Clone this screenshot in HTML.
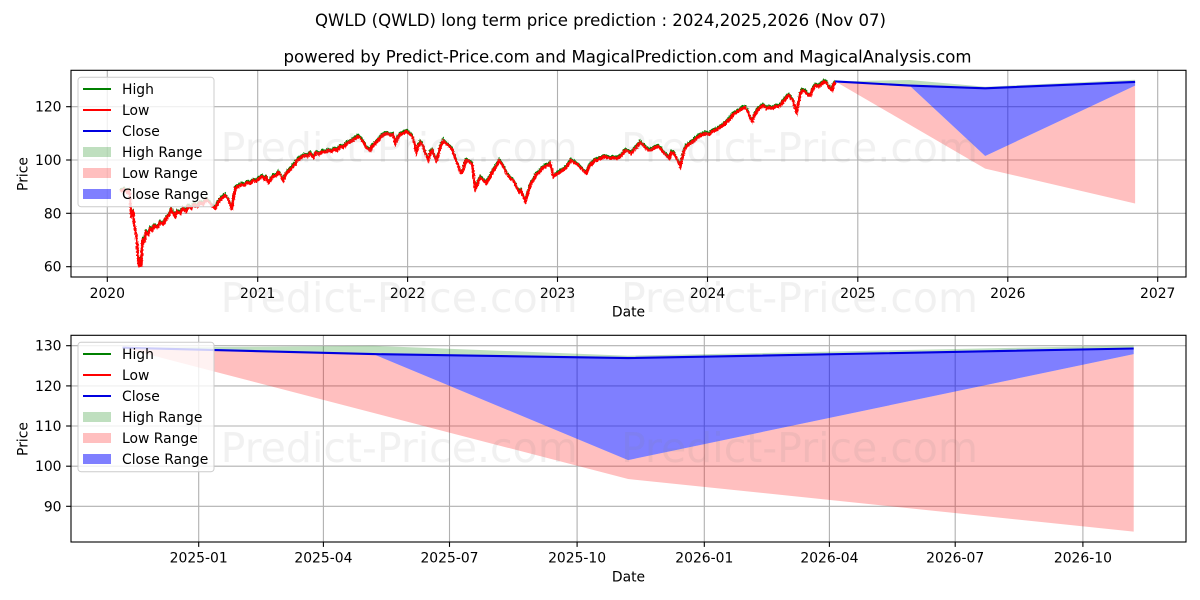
<!DOCTYPE html>
<html><head><meta charset="utf-8"><style>
html,body{margin:0;padding:0;background:#fff;}
svg{display:block;}
text{font-family:"DejaVu Sans","Liberation Sans",sans-serif;fill:#000;}
</style></head><body>
<svg width="1200" height="600" viewBox="0 0 1200 600" xmlns="http://www.w3.org/2000/svg">
<defs>
<clipPath id="c1"><rect x="71" y="70.3" width="1115" height="206.7"/></clipPath>
<clipPath id="c2"><rect x="71" y="335.3" width="1115" height="206.7"/></clipPath>
<filter id="jag" x="-5%" y="-20%" width="110%" height="140%">
<feTurbulence type="fractalNoise" baseFrequency="0.9 0.6" numOctaves="1" seed="3" result="n"/>
<feDisplacementMap in="SourceGraphic" in2="n" scale="3" xChannelSelector="R" yChannelSelector="G"/>
</filter>
<polyline id="hist" fill="none" points="120,191 124,189 127,192 129,190 130,200 131,215 133,212 134,225 136,235 137,245 138,262 139,266 140,258 141,266 142,245 143,238 144,242 146,232 148,234 150,228 152,230 154,225 157,227 160,222 163,224 166,218 169,214 171,209 173,213 175,216 177,211 180,213 183,208 186,211 188,206 191,208 194,204 197,206 200,202 203,204 206,199 209,202 212,206 215,208 218,202 221,198 225,195 228,199 230,204 231.5,209 233,200 235,188 238,186 241,184 244,185 247,182 250,183 253,180 256,181 259,178 262,176 264,179 266,177 268,182 270,180 273,176 276,175 278,172 280,174 283,180 286,173 289,170 292,167 295,163 298,159 301,157 304,155 307,156 310,153 313,157 316,152 319,154 322,151 325,152 328,150 331,151 334,149 337,150 340,146 343,147 346,143 349,142 352,140 355,138 358,136 361,139 364,143 366,147 368,149 370,150 372,146 375,143 378,140 381,136 384,134 387,133 390,135 393,134 395,143 397,138 400,134 403,133 406,131 409,133 412,136 414,142 416,152 418,146 420,142 422,144 424,150 426,155 428,160 430,152 432,150 434,155 436,160 438,155 440,147 443,140 446,143 449,146 452,149 455,158 458,165 460,172 462,172 464,165 466,160 469,161 472,164 474,180 475,188 477,184 480,177 483,180 486,183 489,178 491,174 493,170 496,166 499,160 501,163 504,168 507,174 510,178 513,180 516,186 519,192 521,190 523,196 525,201 527,195 529,188 531,183 533,180 536,174 539,172 542,168 545,166 548,165 550,163 553,176 556,174 559,172 562,170 565,168 568,164 571,160 574,162 577,164 580,167 583,170 586,173 589,166 592,163 595,160 598,159 601,158 604,156 607,157 610,158 613,157 616,158 619,157 622,154 625,150 628,151 631,153 634,149 637,146 640,142 643,145 646,148 649,150 652,149 655,147 658,146 661,149 664,153 667,156 669,158 671,152 674,153 677,160 680,166 682,158 684,150 686,146 690,143 694,140 697,137 700,135 703,134 706,133 709,134 712,131 715,130 718,128 721,126 724,124 727,121 730,118 733,114 736,112 739,110 742,108 745,107 748,112 750,118 752,121 754,115 757,110 760,107 763,105 766,108 769,107 772,108 775,106 778,106 781,104 784,100 787,96 789,95 791,98 793,101 795,108 796.5,112 798,104 800,94 802,90 805,91 808,95 810,95 812,90 815,85 818,86 821,84 824,81 826,82 828,86 830,88 832,90 833,85 835,82"/>
</defs>

<!-- Titles -->
<text x="600.5" y="26" font-size="16.7" text-anchor="middle" textLength="571" lengthAdjust="spacingAndGlyphs">QWLD (QWLD) long term price prediction : 2024,2025,2026 (Nov 07)</text>
<text x="627.5" y="62.7" font-size="16.7" text-anchor="middle" textLength="688" lengthAdjust="spacingAndGlyphs">powered by Predict-Price.com and MagicalPrediction.com and MagicalAnalysis.com</text>

<!-- ================= TOP AXES ================= -->
<g stroke="#b0b0b0" stroke-width="1.1">
<line x1="107.3" y1="70.3" x2="107.3" y2="277"/>
<line x1="257.7" y1="70.3" x2="257.7" y2="277"/>
<line x1="407.6" y1="70.3" x2="407.6" y2="277"/>
<line x1="557.5" y1="70.3" x2="557.5" y2="277"/>
<line x1="707.5" y1="70.3" x2="707.5" y2="277"/>
<line x1="857.8" y1="70.3" x2="857.8" y2="277"/>
<line x1="1007.8" y1="70.3" x2="1007.8" y2="277"/>
<line x1="1157.7" y1="70.3" x2="1157.7" y2="277"/>
<line x1="71" y1="266.7" x2="1186" y2="266.7"/>
<line x1="71" y1="213.3" x2="1186" y2="213.3"/>
<line x1="71" y1="160" x2="1186" y2="160"/>
<line x1="71" y1="106.7" x2="1186" y2="106.7"/>
</g>
<g clip-path="url(#c1)">
<polygon fill="rgba(0,128,0,0.25)" points="835.2,81.4 909.6,80 985.2,86.7 1135.1,79.8 1135.1,81.9 985.2,88.3 909.6,85.6"/>
<polygon fill="rgba(255,0,0,0.25)" points="835.2,81.4 909.6,85.6 985.2,156 1135.1,85.6 1135.1,203.5 985.2,168.6"/>
<polygon fill="rgba(0,0,255,0.5)" points="909.6,85.6 985.2,88.3 1135.1,81.9 1135.1,85.6 985.2,156"/>
<g filter="url(#jag)">
<use href="#hist" stroke="#008000" stroke-width="1.8" transform="translate(0,-1.4)"/>
<use href="#hist" stroke="#ff0000" stroke-width="2.2" transform="translate(0.5,0.9)"/>
<use href="#hist" stroke="#ff0000" stroke-width="2.2"/>
</g>
<polyline fill="none" stroke="#0000e0" stroke-width="2.1" points="835.2,81.4 909.6,85.6 985.2,88.3 1135.1,81.9"/>
</g>
<rect x="71" y="70.3" width="1115" height="206.7" fill="none" stroke="#000" stroke-width="1.1"/>
<g stroke="#000" stroke-width="1.1">
<line x1="107.3" y1="277" x2="107.3" y2="281.9"/>
<line x1="257.7" y1="277" x2="257.7" y2="281.9"/>
<line x1="407.6" y1="277" x2="407.6" y2="281.9"/>
<line x1="557.5" y1="277" x2="557.5" y2="281.9"/>
<line x1="707.5" y1="277" x2="707.5" y2="281.9"/>
<line x1="857.8" y1="277" x2="857.8" y2="281.9"/>
<line x1="1007.8" y1="277" x2="1007.8" y2="281.9"/>
<line x1="1157.7" y1="277" x2="1157.7" y2="281.9"/>
<line x1="66.1" y1="266.7" x2="71" y2="266.7"/>
<line x1="66.1" y1="213.3" x2="71" y2="213.3"/>
<line x1="66.1" y1="160" x2="71" y2="160"/>
<line x1="66.1" y1="106.7" x2="71" y2="106.7"/>
</g>
<g font-size="13.9" text-anchor="middle">
<text x="107.3" y="298">2020</text>
<text x="257.7" y="298">2021</text>
<text x="407.6" y="298">2022</text>
<text x="557.5" y="298">2023</text>
<text x="707.5" y="298">2024</text>
<text x="857.8" y="298">2025</text>
<text x="1007.8" y="298">2026</text>
<text x="1157.7" y="298">2027</text>
<text x="628.5" y="316.7">Date</text>
</g>
<g font-size="13.9" text-anchor="end">
<text x="61.5" y="271.7">60</text>
<text x="61.5" y="218.3">80</text>
<text x="61.5" y="165">100</text>
<text x="61.5" y="111.7">120</text>
</g>
<text font-size="13.9" text-anchor="middle" transform="translate(27.6,174) rotate(-90)">Price</text>

<!-- Top legend -->
<rect x="78" y="77.3" width="136" height="129.4" rx="3" fill="rgba(255,255,255,0.8)" stroke="#cccccc" stroke-width="1"/>
<g stroke-width="2">
<line x1="83" y1="89" x2="111" y2="89" stroke="#008000"/>
<line x1="83" y1="110" x2="111" y2="110" stroke="#ff0000"/>
<line x1="83" y1="131" x2="111" y2="131" stroke="#0000e0"/>
</g>
<rect x="83" y="147" width="28" height="10" fill="rgba(0,128,0,0.25)"/>
<rect x="83" y="168" width="28" height="10" fill="rgba(255,0,0,0.25)"/>
<rect x="83" y="189" width="28" height="10" fill="rgba(0,0,255,0.5)"/>
<g font-size="13.9">
<text x="122" y="94">High</text>
<text x="122" y="115">Low</text>
<text x="122" y="136">Close</text>
<text x="122" y="157">High Range</text>
<text x="122" y="178">Low Range</text>
<text x="122" y="199">Close Range</text>
</g>

<!-- ================= BOTTOM AXES ================= -->
<g stroke="#b0b0b0" stroke-width="1.1">
<line x1="198.7" y1="335.3" x2="198.7" y2="542"/>
<line x1="323.4" y1="335.3" x2="323.4" y2="542"/>
<line x1="449.5" y1="335.3" x2="449.5" y2="542"/>
<line x1="577.1" y1="335.3" x2="577.1" y2="542"/>
<line x1="704.3" y1="335.3" x2="704.3" y2="542"/>
<line x1="829.4" y1="335.3" x2="829.4" y2="542"/>
<line x1="955.2" y1="335.3" x2="955.2" y2="542"/>
<line x1="1082.9" y1="335.3" x2="1082.9" y2="542"/>
<line x1="71" y1="345.7" x2="1186" y2="345.7"/>
<line x1="71" y1="385.9" x2="1186" y2="385.9"/>
<line x1="71" y1="426" x2="1186" y2="426"/>
<line x1="71" y1="466.2" x2="1186" y2="466.2"/>
<line x1="71" y1="506.3" x2="1186" y2="506.3"/>
</g>
<g clip-path="url(#c2)">
<polygon fill="rgba(0,128,0,0.25)" points="122.5,347.7 373.2,345.8 628.1,355.7 1133.7,345.4 1133.7,348.5 628.1,358.1 373.2,354.1"/>
<polygon fill="rgba(255,0,0,0.25)" points="122.5,347.7 373.2,354.1 628.1,460.1 1133.7,354.1 1133.7,531.6 628.1,479"/>
<polygon fill="rgba(0,0,255,0.5)" points="373.2,354.1 628.1,358.1 1133.7,348.5 1133.7,354.1 628.1,460.1"/>
<polyline fill="none" stroke="#0000e0" stroke-width="2.1" points="122.5,347.7 373.2,354.1 628.1,358.1 1133.7,348.5"/>
</g>
<rect x="71" y="335.3" width="1115" height="206.7" fill="none" stroke="#000" stroke-width="1.1"/>
<g stroke="#000" stroke-width="1.1">
<line x1="198.7" y1="542" x2="198.7" y2="546.9"/>
<line x1="323.4" y1="542" x2="323.4" y2="546.9"/>
<line x1="449.5" y1="542" x2="449.5" y2="546.9"/>
<line x1="577.1" y1="542" x2="577.1" y2="546.9"/>
<line x1="704.3" y1="542" x2="704.3" y2="546.9"/>
<line x1="829.4" y1="542" x2="829.4" y2="546.9"/>
<line x1="955.2" y1="542" x2="955.2" y2="546.9"/>
<line x1="1082.9" y1="542" x2="1082.9" y2="546.9"/>
<line x1="66.1" y1="345.7" x2="71" y2="345.7"/>
<line x1="66.1" y1="385.9" x2="71" y2="385.9"/>
<line x1="66.1" y1="426" x2="71" y2="426"/>
<line x1="66.1" y1="466.2" x2="71" y2="466.2"/>
<line x1="66.1" y1="506.3" x2="71" y2="506.3"/>
</g>
<g font-size="13.9" text-anchor="middle">
<text x="198.7" y="562.5">2025-01</text>
<text x="323.4" y="562.5">2025-04</text>
<text x="449.5" y="562.5">2025-07</text>
<text x="577.1" y="562.5">2025-10</text>
<text x="704.3" y="562.5">2026-01</text>
<text x="829.4" y="562.5">2026-04</text>
<text x="955.2" y="562.5">2026-07</text>
<text x="1082.9" y="562.5">2026-10</text>
<text x="628.5" y="581.7">Date</text>
</g>
<g font-size="13.9" text-anchor="end">
<text x="61.5" y="350.7">130</text>
<text x="61.5" y="390.9">120</text>
<text x="61.5" y="431">110</text>
<text x="61.5" y="471.2">100</text>
<text x="61.5" y="511.3">90</text>
</g>
<text font-size="13.9" text-anchor="middle" transform="translate(27.6,439) rotate(-90)">Price</text>

<!-- Bottom legend -->
<rect x="78" y="342.3" width="136" height="129.4" rx="3" fill="rgba(255,255,255,0.8)" stroke="#cccccc" stroke-width="1"/>
<g stroke-width="2">
<line x1="83" y1="354" x2="111" y2="354" stroke="#008000"/>
<line x1="83" y1="375" x2="111" y2="375" stroke="#ff0000"/>
<line x1="83" y1="396" x2="111" y2="396" stroke="#0000e0"/>
</g>
<rect x="83" y="412" width="28" height="10" fill="rgba(0,128,0,0.25)"/>
<rect x="83" y="433" width="28" height="10" fill="rgba(255,0,0,0.25)"/>
<rect x="83" y="454" width="28" height="10" fill="rgba(0,0,255,0.5)"/>
<g font-size="13.9">
<text x="122" y="359">High</text>
<text x="122" y="380">Low</text>
<text x="122" y="401">Close</text>
<text x="122" y="422">High Range</text>
<text x="122" y="443">Low Range</text>
<text x="122" y="464">Close Range</text>
</g>

<!-- Watermarks -->
<g font-size="41">
<text x="220.7" y="162" textLength="357" lengthAdjust="spacingAndGlyphs" style="fill:rgba(128,128,128,0.11)">Predict-Price.com</text>
<text x="621" y="162" textLength="357" lengthAdjust="spacingAndGlyphs" style="fill:rgba(128,128,128,0.11)">Predict-Price.com</text>
<text x="220.7" y="312" textLength="357" lengthAdjust="spacingAndGlyphs" style="fill:rgba(128,128,128,0.11)">Predict-Price.com</text>
<text x="621" y="312" textLength="357" lengthAdjust="spacingAndGlyphs" style="fill:rgba(128,128,128,0.11)">Predict-Price.com</text>
<text x="220.7" y="462" textLength="357" lengthAdjust="spacingAndGlyphs" style="fill:rgba(128,128,128,0.11)">Predict-Price.com</text>
<text x="621" y="462" textLength="357" lengthAdjust="spacingAndGlyphs" style="fill:rgba(128,128,128,0.11)">Predict-Price.com</text>
</g>
</svg>
</body></html>
